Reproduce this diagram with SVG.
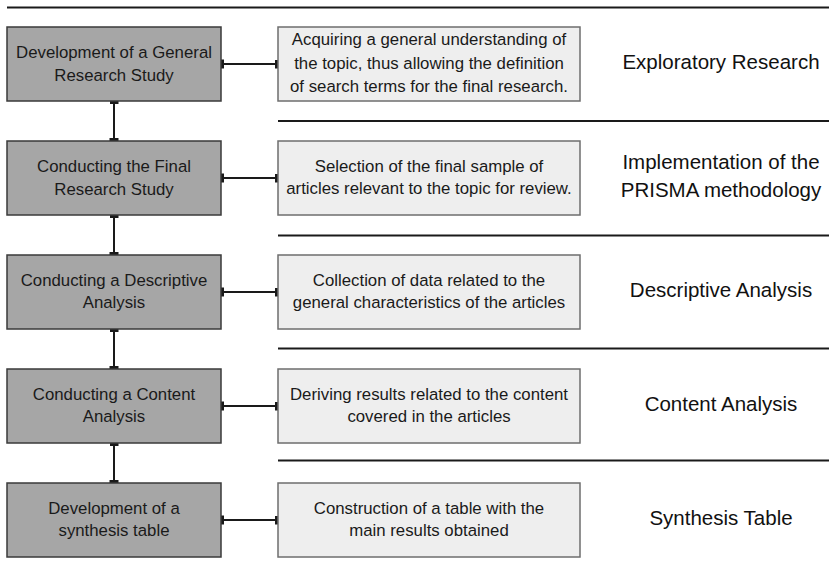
<svg xmlns="http://www.w3.org/2000/svg" width="829" height="571" viewBox="0 0 829 571">
  <style>
    .step rect { fill: #a6a6a6; stroke: #3a3a3a; stroke-width: 1.5; }
    .desc rect { fill: #eeeeee; stroke: #6e6e6e; stroke-width: 1.5; }
    .box-text { font-family: "Liberation Sans", Arial, sans-serif; font-size: 16.8px; fill: #1a1a1a; text-anchor: middle; }
    .phase-text { font-family: "Liberation Sans", Arial, sans-serif; font-size: 20.5px; fill: #111111; text-anchor: middle; }
    .rule { stroke: #1a1a1a; stroke-width: 2.2; fill: none; }
    .link { stroke: #1a1a1a; stroke-width: 2; fill: none; marker-start: url(#tee); marker-end: url(#tee); }
  </style>
  <defs>
    <marker id="tee" markerUnits="userSpaceOnUse" markerWidth="4" markerHeight="10" refX="3" refY="4.5" orient="auto-start-reverse">
      <rect x="0" y="0" width="3" height="9" fill="#1a1a1a"/>
    </marker>
  </defs>

  <rect width="829" height="571" fill="#ffffff"/>

  <!-- separator rules between phases -->
  <g id="rules">
    <line class="rule" x1="7" y1="7.5" x2="829" y2="7.5"/>
    <line class="rule" x1="278" y1="121" x2="829" y2="121"/>
    <line class="rule" x1="278" y1="235.5" x2="829" y2="235.5"/>
    <line class="rule" x1="278" y1="348.5" x2="829" y2="348.5"/>
    <line class="rule" x1="278" y1="460.5" x2="829" y2="460.5"/>
  </g>

  <!-- connectors -->
  <g id="connectors">
    <line class="link" x1="221" y1="64" x2="278" y2="64"/>
    <line class="link" x1="221" y1="178" x2="278" y2="178"/>
    <line class="link" x1="221" y1="292" x2="278" y2="292"/>
    <line class="link" x1="221" y1="406" x2="278" y2="406"/>
    <line class="link" x1="221" y1="520" x2="278" y2="520"/>
    <line class="link" x1="114" y1="101" x2="114" y2="141"/>
    <line class="link" x1="114" y1="215" x2="114" y2="255"/>
    <line class="link" x1="114" y1="329" x2="114" y2="369"/>
    <line class="link" x1="114" y1="443" x2="114" y2="483"/>
  </g>

  <!-- row 1 -->
  <g id="step-general-study" class="step">
    <rect x="7" y="27" width="214" height="74"/>
    <text class="box-text" x="114" y="58">Development of a General</text>
    <text class="box-text" x="114" y="80.5">Research Study</text>
  </g>
  <g id="desc-general-study" class="desc">
    <rect x="278" y="27" width="302" height="74"/>
    <text class="box-text" x="429" y="45">Acquiring a general understanding of</text>
    <text class="box-text" x="429" y="68.5">the topic, thus allowing the definition</text>
    <text class="box-text" x="429" y="92">of search terms for the final research.</text>
  </g>
  <g id="phase-exploratory">
    <text class="phase-text" x="721" y="69">Exploratory Research</text>
  </g>

  <!-- row 2 -->
  <g id="step-final-study" class="step">
    <rect x="7" y="141" width="214" height="74"/>
    <text class="box-text" x="114" y="172">Conducting the Final</text>
    <text class="box-text" x="114" y="194.5">Research Study</text>
  </g>
  <g id="desc-final-study" class="desc">
    <rect x="278" y="141" width="302" height="74"/>
    <text class="box-text" x="429" y="171.5">Selection of the final sample of</text>
    <text class="box-text" x="429" y="194">articles relevant to the topic for review.</text>
  </g>
  <g id="phase-prisma">
    <text class="phase-text" x="721" y="169">Implementation of the</text>
    <text class="phase-text" x="721" y="197">PRISMA methodology</text>
  </g>

  <!-- row 3 -->
  <g id="step-descriptive" class="step">
    <rect x="7" y="255" width="214" height="74"/>
    <text class="box-text" x="114" y="285.5">Conducting a Descriptive</text>
    <text class="box-text" x="114" y="308">Analysis</text>
  </g>
  <g id="desc-descriptive" class="desc">
    <rect x="278" y="255" width="302" height="74"/>
    <text class="box-text" x="429" y="285.5">Collection of data related to the</text>
    <text class="box-text" x="429" y="308">general characteristics of the articles</text>
  </g>
  <g id="phase-descriptive">
    <text class="phase-text" x="721" y="297">Descriptive Analysis</text>
  </g>

  <!-- row 4 -->
  <g id="step-content" class="step">
    <rect x="7" y="369" width="214" height="74"/>
    <text class="box-text" x="114" y="399.5">Conducting a Content</text>
    <text class="box-text" x="114" y="422">Analysis</text>
  </g>
  <g id="desc-content" class="desc">
    <rect x="278" y="369" width="302" height="74"/>
    <text class="box-text" x="429" y="399.5">Deriving results related to the content</text>
    <text class="box-text" x="429" y="422">covered in the articles</text>
  </g>
  <g id="phase-content">
    <text class="phase-text" x="721" y="411">Content Analysis</text>
  </g>

  <!-- row 5 -->
  <g id="step-synthesis" class="step">
    <rect x="7" y="483" width="214" height="74"/>
    <text class="box-text" x="114" y="513.5">Development of a</text>
    <text class="box-text" x="114" y="536">synthesis table</text>
  </g>
  <g id="desc-synthesis" class="desc">
    <rect x="278" y="483" width="302" height="74"/>
    <text class="box-text" x="429" y="513.5">Construction of a table with the</text>
    <text class="box-text" x="429" y="536">main results obtained</text>
  </g>
  <g id="phase-synthesis">
    <text class="phase-text" x="721" y="525">Synthesis Table</text>
  </g>
</svg>
